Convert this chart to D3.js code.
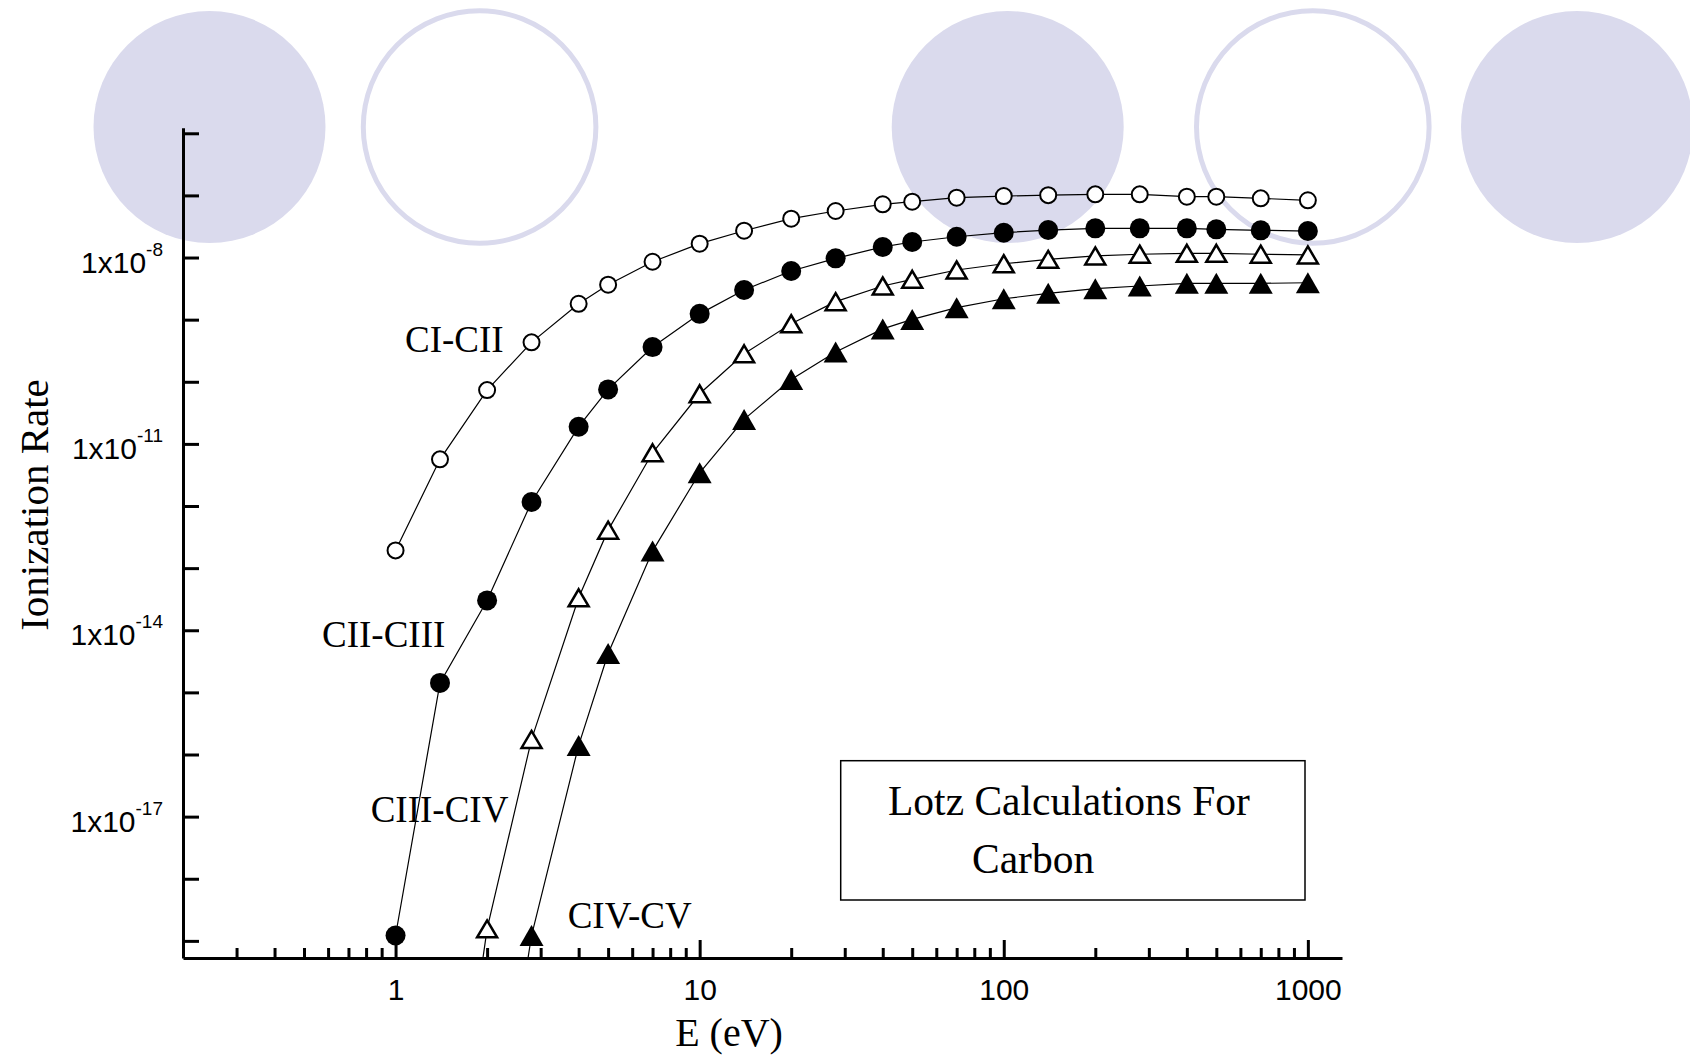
<!DOCTYPE html>
<meta charset="utf-8">
<script src="https://d3js.org/d3.v7.min.js"></script>
<style>
  body { margin: 0; background: #fff; }
  svg { display: block; }
</style>
<body>
<div id="chart"></div>
<script>
// electron energy (eV)
var energies = [1, 1.4, 2, 2.8, 4, 5, 7, 10, 14, 20, 28, 40, 50, 70, 100, 140, 200, 280, 400, 500, 700, 1000];

// ionization rates, one per energy (null = not computed)
var ciCii   = [1.93e-13, 5.64e-12, 7.35e-11, 4.31e-10, 1.80e-9, 3.65e-9, 8.55e-9, 1.67e-8, 2.70e-8, 4.22e-8, 5.61e-8,
               7.19e-8, 7.92e-8, 9.18e-8, 9.77e-8, 1.01e-7, 1.04e-7, 1.04e-7, 9.53e-8, 9.53e-8, 8.97e-8, 8.34e-8];
var ciiCiii = [1.22e-19, 1.42e-15, 3.02e-14, 1.16e-12, 1.89e-11, 7.53e-11, 3.62e-10, 1.24e-9, 3.00e-9, 6.07e-9, 9.70e-9,
               1.48e-8, 1.78e-8, 2.16e-8, 2.51e-8, 2.77e-8, 2.95e-8, 2.95e-8, 2.95e-8, 2.84e-8, 2.74e-8, 2.67e-8];
var ciiiCiv = [null, 7e-25, 1.56e-19, 1.75e-16, 3.33e-14, 4.09e-13, 7.19e-12, 6.41e-11, 2.82e-10, 8.59e-10, 1.95e-9,
               3.48e-9, 4.46e-9, 6.30e-9, 7.94e-9, 9.35e-9, 1.06e-8, 1.13e-8, 1.17e-8, 1.17e-8, 1.13e-8, 1.10e-8];
var civCv   = [null, null, 3.2e-24, 1.22e-19, 1.40e-16, 4.23e-15, 1.88e-13, 3.43e-12, 2.48e-11, 1.09e-10, 3.01e-10,
               7.1e-10, 1.01e-9, 1.56e-9, 2.17e-9, 2.65e-9, 3.15e-9, 3.48e-9, 3.84e-9, 3.84e-9, 3.84e-9, 3.93e-9];

var seriesNames = ["CI-CII", "CII-CIII", "CIII-CIV", "CIV-CV"];
var markerTypes = ["openCircle", "filledCircle", "openTriangle", "filledTriangle"];

var xMajor = [1, 10, 100, 1000];
var yLabelled = [1e-8, 1e-11, 1e-14, 1e-17];

var W = 1690, H = 1058;
var svg = d3.select("#chart").append("svg")
    .attr("width", W)
    .attr("height", H);

// decorative circles across the top
var deco = [
  {cx: 209.5, filled: true},
  {cx: 479.6, filled: false},
  {cx: 1007.7, filled: true},
  {cx: 1312.8, filled: false},
  {cx: 1577, filled: true}
];
svg.append("g").selectAll("circle")
  .data(deco)
  .enter().append("circle")
    .attr("cx", function(d) { return d.cx; })
    .attr("cy", 127)
    .attr("r", function(d) { return d.filled ? 116 : 116.3; })
    .attr("fill", function(d) { return d.filled ? "#dadaed" : "none"; })
    .attr("stroke", function(d) { return d.filled ? "none" : "#dadaed"; })
    .attr("stroke-width", 5);

// scales
var x = d3.scaleLog().domain([0.2, 1295]).range([183, 1342]);
var y = d3.scaleLog().domain([5.3e-20, 1.23e-6]).range([958, 127.7]);

// clip for lines going below the axis
svg.append("clipPath").attr("id", "plotClip")
  .append("rect")
    .attr("x", 183).attr("y", 100)
    .attr("width", 1342 - 183).attr("height", 958 - 100);

var series = [ciCii, ciiCiii, ciiiCiv, civCv].map(function(vals, i) {
  return {
    name: seriesNames[i],
    marker: markerTypes[i],
    points: energies.map(function(e, j) { return {e: e, v: vals[j]}; })
                    .filter(function(p) { return p.v != null; })
  };
});

var line = d3.line()
  .x(function(d) { return x(d.e); })
  .y(function(d) { return y(d.v); });

var lines = svg.append("g").attr("clip-path", "url(#plotClip)");
lines.selectAll("path")
  .data(series)
  .enter().append("path")
    .attr("d", function(d) { return line(d.points); })
    .attr("fill", "none")
    .attr("stroke", "#000")
    .attr("stroke-width", 1.2);

// axes
var minorX = [];
[0.1, 1, 10, 100].forEach(function(b) {
  for (var k = 2; k <= 9; k++) { if (b * k > 0.2 && b * k < 1000) minorX.push(b * k); }
});
var yTicks = d3.range(-19, -5).map(function(p) { return Math.pow(10, p); });

var xMinorAxis = svg.append("g")
  .attr("transform", "translate(0,958)")
  .call(d3.axisBottom(x).tickValues(minorX).tickSizeInner(-10).tickSizeOuter(0).tickFormat(""));
xMinorAxis.select(".domain").remove();

var xAxis = svg.append("g")
  .attr("transform", "translate(0,958)")
  .call(d3.axisBottom(x).tickValues(xMajor).tickSizeInner(-18).tickSizeOuter(0)
        .tickFormat(function(d) { return String(d); }));
xAxis.selectAll("text")
  .attr("y", 42).attr("dy", null)
  .style("font-family", "'Liberation Sans', Arial, sans-serif")
  .style("font-size", "30px")
  .attr("fill", "#000");

var yAxis = svg.append("g")
  .attr("transform", "translate(183,0)")
  .call(d3.axisLeft(y).tickValues(yTicks).tickSizeInner(-16).tickSizeOuter(0).tickFormat(""));

svg.selectAll(".domain, .tick line")
  .attr("stroke", "#000")
  .attr("stroke-width", 3);

// y tick labels 1x10^n
var yLab = svg.append("g").selectAll("text")
  .data(yLabelled)
  .enter().append("text")
    .attr("x", 163)
    .attr("y", function(d) { return y(d) + 15; })
    .attr("text-anchor", "end")
    .style("font-family", "'Liberation Sans', Arial, sans-serif")
    .style("font-size", "30px");
yLab.append("tspan").text("1x10");
yLab.append("tspan")
  .attr("dy", -17)
  .style("font-size", "19px")
  .text(function(d) { return String(Math.round(Math.log10(d))); });

// series markers
var mk = svg.append("g");
series.forEach(function(s) {
  var pts = s.points.filter(function(p) { return p.v >= y.domain()[0]; });
  var g = mk.append("g");
  if (s.marker === "openCircle" || s.marker === "filledCircle") {
    var open = s.marker === "openCircle";
    g.selectAll("circle").data(pts).enter().append("circle")
      .attr("cx", function(d) { return x(d.e); })
      .attr("cy", function(d) { return y(d.v); })
      .attr("r", open ? 8 : 10)
      .attr("fill", open ? "#fff" : "#000")
      .attr("stroke", "#000")
      .attr("stroke-width", open ? 2 : 0);
  } else {
    var openT = s.marker === "openTriangle";
    var w = openT ? 20 : 24, h = openT ? 17 : 21;
    g.selectAll("path").data(pts).enter().append("path")
      .attr("transform", function(d) { return "translate(" + x(d.e) + "," + y(d.v) + ")"; })
      .attr("d", "M0," + (-h / 2) + "L" + (w / 2) + "," + (h / 2) + "L" + (-w / 2) + "," + (h / 2) + "Z")
      .attr("fill", openT ? "#fff" : "#000")
      .attr("stroke", "#000")
      .attr("stroke-width", openT ? 2.5 : 0)
      .attr("stroke-linejoin", "miter");
  }
});

// series labels
var serif = "'Liberation Serif', 'Times New Roman', serif";
var labelPos = [[405, 351.7], [322, 646.7], [370.7, 821.7], [567.7, 928.3]];
svg.append("g").selectAll("text")
  .data(seriesNames)
  .enter().append("text")
    .attr("x", function(d, i) { return labelPos[i][0]; })
    .attr("y", function(d, i) { return labelPos[i][1]; })
    .style("font-family", serif)
    .style("font-size", "37px")
    .text(function(d) { return d; });

// caption box
svg.append("rect")
  .attr("x", 840.7).attr("y", 760.7)
  .attr("width", 1305 - 840.7).attr("height", 900 - 760.7)
  .attr("fill", "none")
  .attr("stroke", "#000")
  .attr("stroke-width", 1.5);
svg.append("text")
  .attr("x", 888).attr("y", 815)
  .style("font-family", serif).style("font-size", "41.5px")
  .text("Lotz Calculations For");
svg.append("text")
  .attr("x", 972).attr("y", 873)
  .style("font-family", serif).style("font-size", "41.5px")
  .text("Carbon");

// axis titles
svg.append("text")
  .attr("x", 729).attr("y", 1046)
  .attr("text-anchor", "middle")
  .style("font-family", serif).style("font-size", "40px")
  .text("E (eV)");
svg.append("text")
  .attr("transform", "translate(48,505) rotate(-90)")
  .attr("text-anchor", "middle")
  .style("font-family", serif).style("font-size", "41px")
  .text("Ionization Rate");
</script>
</body>
